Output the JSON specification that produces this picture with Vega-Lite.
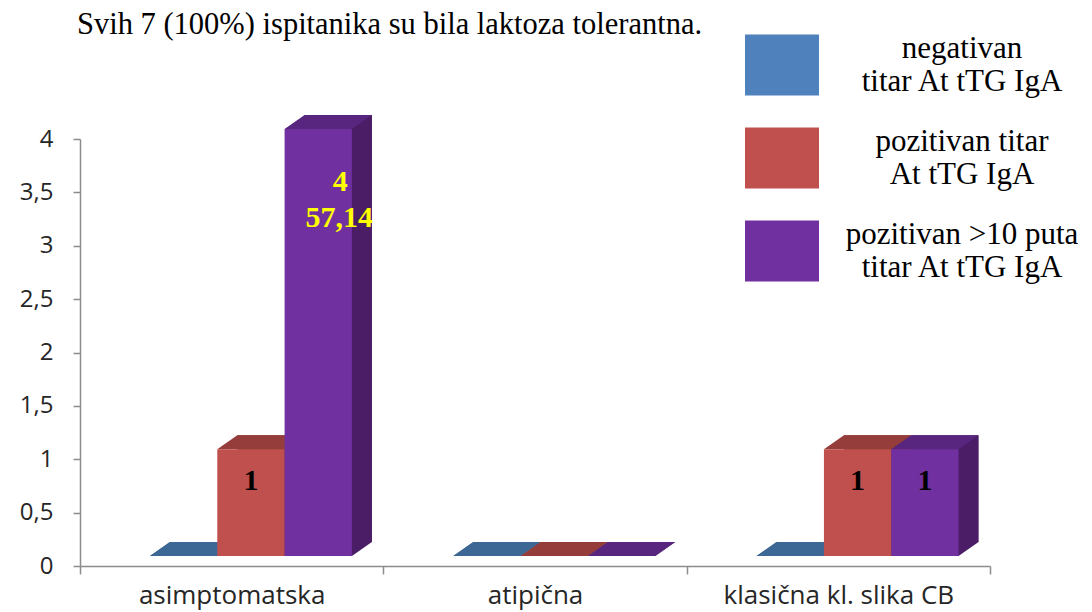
{
  "$schema": "https://vega.github.io/schema/vega-lite/v6.json",
  "width": 910,
  "height": 427,
  "autosize": {"type": "none"},
  "padding": {"left": 80, "top": 139, "right": 102, "bottom": 46},
  "background": "white",
  "config": {"view": {"stroke": null}, "font": "Open Sans"},
  "title": {"text": "Svih 7 (100%) ispitanika su bila laktoza tolerantna.", "anchor": "start", "frame": "group", "font": "Liberation Serif", "fontSize": 30.5, "fontWeight": "normal", "color": "black", "offset": -12, "dx": -3},
  "data": {"values": [
    {"cat": "asimptomatska", "series": "negativan titar At tTG IgA", "value": 0, "pct": null},
    {"cat": "asimptomatska", "series": "pozitivan titar At tTG IgA", "value": 1, "pct": null},
    {"cat": "asimptomatska", "series": "pozitivan >10 puta titar At tTG IgA", "value": 4, "pct": "57,14"},
    {"cat": "atipična", "series": "negativan titar At tTG IgA", "value": 0, "pct": null},
    {"cat": "atipična", "series": "pozitivan titar At tTG IgA", "value": 0, "pct": null},
    {"cat": "atipična", "series": "pozitivan >10 puta titar At tTG IgA", "value": 0, "pct": null},
    {"cat": "klasična kl. slika CB", "series": "negativan titar At tTG IgA", "value": 0, "pct": null},
    {"cat": "klasična kl. slika CB", "series": "pozitivan titar At tTG IgA", "value": 1, "pct": null},
    {"cat": "klasična kl. slika CB", "series": "pozitivan >10 puta titar At tTG IgA", "value": 1, "pct": null}
  ]},
  "resolve": {"scale": {"xOffset": "independent", "color": "independent"}, "legend": {"color": "independent"}},
  "encoding": {
    "x": {"field": "cat", "type": "nominal", "sort": ["asimptomatska", "atipična", "klasična kl. slika CB"],
      "scale": {"paddingInner": 0, "paddingOuter": 0},
      "axis": {"title": null, "labelAngle": 0, "labelFont": "Open Sans", "labelFontSize": 26, "labelLimit": 400, "labelColor": "#262626", "labelPadding": 8, "domainColor": "#8C8C8C", "domainWidth": 1.5, "tickColor": "#8C8C8C", "tickSize": 8, "tickWidth": 1.5, "tickBand": "extent"}},
    "y": {"field": "value", "type": "quantitative",
      "scale": {"domain": [0, 4], "nice": false},
      "axis": {"title": null, "values": [0, 0.5, 1, 1.5, 2, 2.5, 3, 3.5, 4], "format": ".1~f", "labelExpr": "replace(datum.label, '.', ',')", "grid": false, "labelFont": "Open Sans", "labelFontSize": 24, "labelColor": "#262626", "labelPadding": 20, "domainColor": "#8C8C8C", "domainWidth": 1.5, "tickColor": "#8C8C8C", "tickSize": 7, "tickWidth": 1.5}}
  },
  "layer": [
    {
      "mark": {"type": "bar", "yOffset": -24},
      "encoding": {
        "xOffset": {"field": "series", "type": "nominal", "scale": {"type": "band", "domain": ["negativan titar At tTG IgA", "pozitivan titar At tTG IgA", "pozitivan >10 puta titar At tTG IgA"], "paddingInner": 0, "paddingOuter": 0.753, "align": 0.888}},
        "color": {"field": "series", "type": "nominal", "scale": {"domain": ["negativan titar At tTG IgA", "pozitivan titar At tTG IgA", "pozitivan >10 puta titar At tTG IgA"], "range": ["#375D8A", "#8A3735", "#4A1D66"]}, "legend": null}
      }
    },
    {
      "mark": {"type": "point", "shape": "M-1,0L1,0L1.594,-0.416L-0.406,-0.416Z", "size": 4529, "filled": true, "opacity": 1, "strokeWidth": 0, "yOffset": -10},
      "encoding": {
        "y": {"datum": 0},
        "xOffset": {"field": "series", "type": "nominal", "scale": {"type": "band", "domain": ["negativan titar At tTG IgA", "pozitivan titar At tTG IgA", "pozitivan >10 puta titar At tTG IgA"], "paddingInner": 0, "paddingOuter": 0.753, "align": 0.69}},
        "color": {"field": "series", "type": "nominal", "scale": {"domain": ["negativan titar At tTG IgA", "pozitivan titar At tTG IgA", "pozitivan >10 puta titar At tTG IgA"], "range": ["#375D8A", "#8A3735", "#4A1D66"]}, "legend": null}
      }
    },
    {
      "mark": {"type": "point", "shape": "M-1,0L1,0L1.594,-0.416L-0.406,-0.416Z", "size": 4529, "filled": true, "opacity": 1, "strokeWidth": 0, "yOffset": -10},
      "encoding": {
        "xOffset": {"field": "series", "type": "nominal", "scale": {"type": "band", "domain": ["negativan titar At tTG IgA", "pozitivan titar At tTG IgA", "pozitivan >10 puta titar At tTG IgA"], "paddingInner": 0, "paddingOuter": 0.753, "align": 0.69}},
        "color": {"field": "series", "type": "nominal", "scale": {"domain": ["negativan titar At tTG IgA", "pozitivan titar At tTG IgA", "pozitivan >10 puta titar At tTG IgA"], "range": ["#3D6795", "#953D3A", "#58267F"]}, "legend": null}
      }
    },
    {
      "mark": {"type": "bar", "yOffset": -10},
      "encoding": {
        "xOffset": {"field": "series", "type": "nominal", "scale": {"type": "band", "domain": ["negativan titar At tTG IgA", "pozitivan titar At tTG IgA", "pozitivan >10 puta titar At tTG IgA"], "paddingInner": 0, "paddingOuter": 0.753, "align": 0.69}},
        "color": {"field": "series", "type": "nominal", "scale": {"domain": ["negativan titar At tTG IgA", "pozitivan titar At tTG IgA", "pozitivan >10 puta titar At tTG IgA"], "range": ["#4F81BD", "#C0504D", "#7030A0"]},
          "legend": {"orient": "none", "legendX": 665, "legendY": -111, "title": null, "padding": 0,
            "symbolType": "M-1,-0.824L1,-0.824L1,0.824L-1,0.824Z", "symbolSize": 5476, "symbolStrokeWidth": 0, "symbolOpacity": 1,
            "labelFont": "Liberation Serif", "labelFontSize": 31, "labelColor": "black", "labelAlign": "center", "labelBaseline": "bottom", "labelOffset": 143, "labelLimit": 400, "rowPadding": 24,
            "labelExpr": "datum.label == 'negativan titar At tTG IgA' ? ['negativan', 'titar At tTG IgA'] : datum.label == 'pozitivan titar At tTG IgA' ? ['pozitivan titar', 'At tTG IgA'] : ['pozitivan >10 puta', 'titar At tTG IgA']"}}
      }
    },
    {
      "transform": [{"filter": "datum.value > 0 && !datum.pct"}],
      "mark": {"type": "text", "font": "Liberation Serif", "fontSize": 30, "fontWeight": "bold", "color": "black", "baseline": "middle", "dy": 22},
      "encoding": {
        "xOffset": {"field": "series", "type": "nominal", "scale": {"type": "band", "domain": ["negativan titar At tTG IgA", "pozitivan titar At tTG IgA", "pozitivan >10 puta titar At tTG IgA"], "paddingInner": 0, "paddingOuter": 0.753, "align": 0.69}},
        "text": {"field": "value", "type": "quantitative"}
      }
    },
    {
      "transform": [{"filter": "datum.pct"}],
      "mark": {"type": "text", "font": "Liberation Serif", "fontSize": 30, "fontWeight": "bold", "color": "#FFFF00", "baseline": "middle", "dy": 43, "dx": 22},
      "encoding": {
        "xOffset": {"field": "series", "type": "nominal", "scale": {"type": "band", "domain": ["negativan titar At tTG IgA", "pozitivan titar At tTG IgA", "pozitivan >10 puta titar At tTG IgA"], "paddingInner": 0, "paddingOuter": 0.753, "align": 0.69}},
        "text": {"field": "value", "type": "quantitative"}
      }
    },
    {
      "transform": [{"filter": "datum.pct"}],
      "mark": {"type": "text", "font": "Liberation Serif", "fontSize": 30, "fontWeight": "bold", "color": "#FFFF00", "baseline": "middle", "dy": 79, "dx": 21},
      "encoding": {
        "xOffset": {"field": "series", "type": "nominal", "scale": {"type": "band", "domain": ["negativan titar At tTG IgA", "pozitivan titar At tTG IgA", "pozitivan >10 puta titar At tTG IgA"], "paddingInner": 0, "paddingOuter": 0.753, "align": 0.69}},
        "text": {"field": "pct", "type": "nominal"}
      }
    }
  ]
}
